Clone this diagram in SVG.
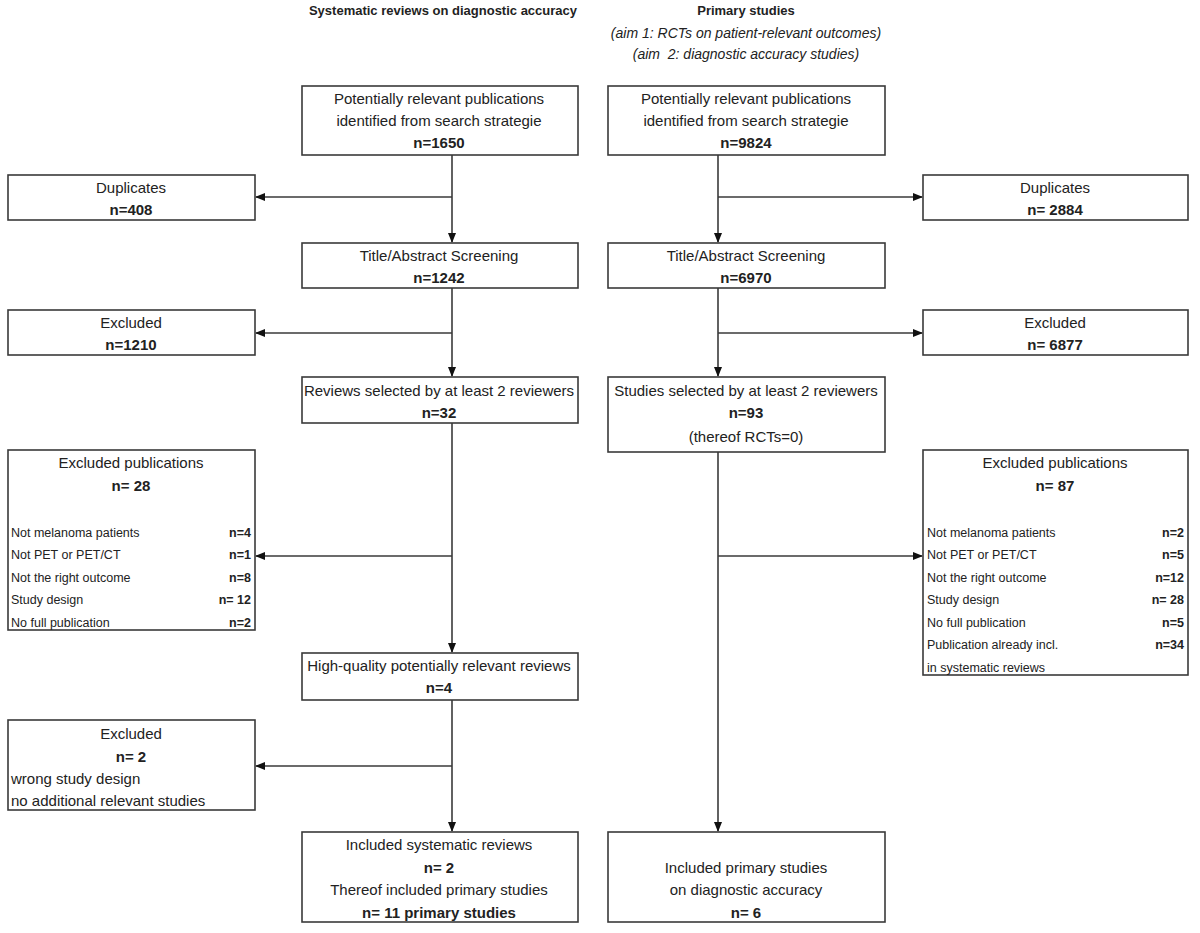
<svg xmlns="http://www.w3.org/2000/svg" width="1200" height="933" viewBox="0 0 1200 933">
<style>
.box{fill:#fff;stroke:#3a3a3a;stroke-width:1.6}
.t{font-family:"Liberation Sans",Arial,sans-serif;font-size:15px;fill:#222;text-anchor:middle}
.h{font-family:"Liberation Sans",Arial,sans-serif;font-size:13px;fill:#222;text-anchor:middle}
.b{font-weight:bold}
.i{font-style:italic;font-size:14px}
.s{font-family:"Liberation Sans",Arial,sans-serif;font-size:12.5px;fill:#222}
.r{text-anchor:end}
.l{text-anchor:start}
.c{stroke:#3a3a3a;stroke-width:1.6;fill:none}
</style>
<defs>
<marker id="ah" markerWidth="10" markerHeight="10" refX="9" refY="5" orient="auto" markerUnits="userSpaceOnUse">
<path d="M0,1 L10,5 L0,9 Z" fill="#111"/>
</marker>
</defs>
<rect width="1200" height="933" fill="#fff"/>
<g id="headers">
<text class="h b" x="443" y="15">Systematic reviews on diagnostic accuracy</text>
<text class="h b" x="746" y="15">Primary studies</text>
<text class="h i" x="746" y="38">(aim 1: RCTs on patient-relevant outcomes)</text>
<text class="h i" x="746" y="59" xml:space="preserve">(aim  2: diagnostic accuracy studies)</text>
</g>
<g id="connectors">
<line class="c" x1="452" y1="155" x2="452" y2="242" marker-end="url(#ah)"/>
<line class="c" x1="452" y1="197" x2="256" y2="197" marker-end="url(#ah)"/>
<line class="c" x1="452" y1="288" x2="452" y2="376" marker-end="url(#ah)"/>
<line class="c" x1="452" y1="333" x2="256" y2="333" marker-end="url(#ah)"/>
<line class="c" x1="452" y1="423" x2="452" y2="652" marker-end="url(#ah)"/>
<line class="c" x1="452" y1="556" x2="256" y2="556" marker-end="url(#ah)"/>
<line class="c" x1="452" y1="700" x2="452" y2="831" marker-end="url(#ah)"/>
<line class="c" x1="452" y1="766" x2="256" y2="766" marker-end="url(#ah)"/>
<line class="c" x1="718" y1="155" x2="718" y2="242" marker-end="url(#ah)"/>
<line class="c" x1="718" y1="197" x2="922" y2="197" marker-end="url(#ah)"/>
<line class="c" x1="718" y1="288" x2="718" y2="376" marker-end="url(#ah)"/>
<line class="c" x1="718" y1="333" x2="922" y2="333" marker-end="url(#ah)"/>
<line class="c" x1="718" y1="452" x2="718" y2="831" marker-end="url(#ah)"/>
<line class="c" x1="718" y1="556" x2="922" y2="556" marker-end="url(#ah)"/>
</g>
<g id="left-identified">
<rect class="box" x="302" y="86" width="276" height="69"/>
<text class="t" x="439" y="104">Potentially relevant publications</text>
<text class="t" x="439" y="126">identified from search strategie</text>
<text class="t b" x="439" y="148">n=1650</text>
</g>
<g id="right-identified">
<rect class="box" x="608" y="86" width="277" height="69"/>
<text class="t" x="746" y="104">Potentially relevant publications</text>
<text class="t" x="746" y="126">identified from search strategie</text>
<text class="t b" x="746" y="148">n=9824</text>
</g>
<g id="left-duplicates">
<rect class="box" x="8" y="175" width="247" height="45"/>
<text class="t" x="131" y="193">Duplicates</text>
<text class="t b" x="131" y="215">n=408</text>
</g>
<g id="right-duplicates">
<rect class="box" x="923" y="175" width="265" height="45"/>
<text class="t" x="1055" y="193">Duplicates</text>
<text class="t b" x="1055" y="215">n= 2884</text>
</g>
<g id="left-screening">
<rect class="box" x="302" y="243" width="276" height="45"/>
<text class="t" x="439" y="261">Title/Abstract Screening</text>
<text class="t b" x="439" y="283">n=1242</text>
</g>
<g id="right-screening">
<rect class="box" x="608" y="243" width="277" height="45"/>
<text class="t" x="746" y="261">Title/Abstract Screening</text>
<text class="t b" x="746" y="283">n=6970</text>
</g>
<g id="left-excluded1">
<rect class="box" x="8" y="310" width="247" height="45"/>
<text class="t" x="131" y="328">Excluded</text>
<text class="t b" x="131" y="350">n=1210</text>
</g>
<g id="right-excluded1">
<rect class="box" x="923" y="310" width="265" height="45"/>
<text class="t" x="1055" y="328">Excluded</text>
<text class="t b" x="1055" y="350">n= 6877</text>
</g>
<g id="left-selected">
<rect class="box" x="302" y="377" width="276" height="46"/>
<text class="t" x="439" y="396">Reviews selected by at least 2 reviewers</text>
<text class="t b" x="439" y="418">n=32</text>
</g>
<g id="right-selected">
<rect class="box" x="608" y="377" width="277" height="75"/>
<text class="t" x="746" y="396">Studies selected by at least 2 reviewers</text>
<text class="t b" x="746" y="418">n=93</text>
<text class="t" x="746" y="442">(thereof RCTs=0)</text>
</g>
<g id="left-excluded-pubs">
<rect class="box" x="8" y="450" width="247" height="180"/>
<text class="t" x="131" y="468">Excluded publications</text>
<text class="t b" x="131" y="491">n= 28</text>
<text class="s l" x="11" y="537">Not melanoma patients</text><text class="s r b" x="251" y="537">n=4</text>
<text class="s l" x="11" y="559">Not PET or PET/CT</text><text class="s r b" x="251" y="559">n=1</text>
<text class="s l" x="11" y="582">Not the right outcome</text><text class="s r b" x="251" y="582">n=8</text>
<text class="s l" x="11" y="604">Study design</text><text class="s r b" x="251" y="604">n= 12</text>
<text class="s l" x="11" y="627">No full publication</text><text class="s r b" x="251" y="627">n=2</text>
</g>
<g id="right-excluded-pubs">
<rect class="box" x="923" y="450" width="265" height="225"/>
<text class="t" x="1055" y="468">Excluded publications</text>
<text class="t b" x="1055" y="491">n= 87</text>
<text class="s l" x="927" y="537">Not melanoma patients</text><text class="s r b" x="1184" y="537">n=2</text>
<text class="s l" x="927" y="559">Not PET or PET/CT</text><text class="s r b" x="1184" y="559">n=5</text>
<text class="s l" x="927" y="582">Not the right outcome</text><text class="s r b" x="1184" y="582">n=12</text>
<text class="s l" x="927" y="604">Study design</text><text class="s r b" x="1184" y="604">n= 28</text>
<text class="s l" x="927" y="627">No full publication</text><text class="s r b" x="1184" y="627">n=5</text>
<text class="s l" x="927" y="649">Publication already incl.</text><text class="s r b" x="1184" y="649">n=34</text>
<text class="s l" x="927" y="672">in systematic reviews</text>
</g>
<g id="left-highquality">
<rect class="box" x="302" y="653" width="276" height="47"/>
<text class="t" x="439" y="671">High-quality potentially relevant reviews</text>
<text class="t b" x="439" y="693">n=4</text>
</g>
<g id="left-excluded2">
<rect class="box" x="8" y="720" width="247" height="90"/>
<text class="t" x="131" y="739">Excluded</text>
<text class="t b" x="131" y="762">n= 2</text>
<text class="t l" x="11" y="784">wrong study design</text>
<text class="t l" x="11" y="806">no additional relevant studies</text>
</g>
<g id="left-included">
<rect class="box" x="302" y="832" width="276" height="90"/>
<text class="t" x="439" y="850">Included systematic reviews</text>
<text class="t b" x="439" y="873">n= 2</text>
<text class="t" x="439" y="895">Thereof included primary studies</text>
<text class="t b" x="439" y="918">n= 11 primary studies</text>
</g>
<g id="right-included">
<rect class="box" x="608" y="832" width="277" height="90"/>
<text class="t" x="746" y="873">Included primary studies</text>
<text class="t" x="746" y="895">on diagnostic accuracy</text>
<text class="t b" x="746" y="918">n= 6</text>
</g>
</svg>
